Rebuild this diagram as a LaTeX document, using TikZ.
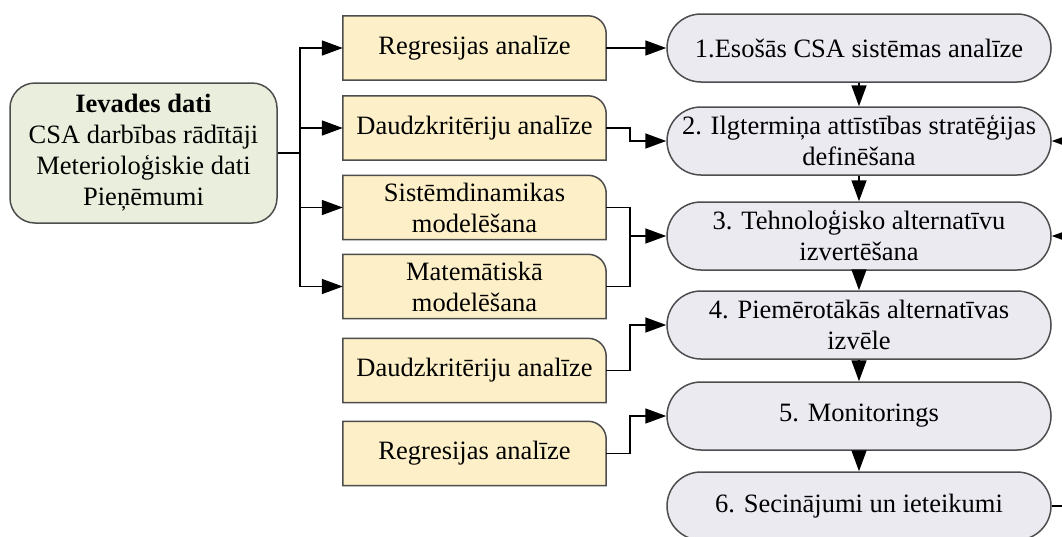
\documentclass[tikz,border=0pt]{standalone}
\usepackage{fontspec}
\setmainfont{Liberation Serif}
\usetikzlibrary{arrows.meta,backgrounds}
\definecolor{ingreen}{HTML}{E9EFDC}
\definecolor{inyellow}{HTML}{FDEFC7}
\definecolor{inlav}{HTML}{ECEAF1}
\definecolor{bordergray}{HTML}{4D4D4D}
\begin{document}
\begin{tikzpicture}[x=1pt,y=-1pt,
  font=\fontsize{26.5}{31}\selectfont,
  innode/.style={draw=bordergray,fill=ingreen,line width=1.5pt,rounded corners=25pt,
    minimum width=267pt,minimum height=140pt,align=center,inner sep=0pt},
  ybox/.style={minimum width=263pt,minimum height=64pt,align=center,inner sep=0pt},
  ydraw/.style={draw=bordergray,fill=inyellow,line width=1.5pt},
  rnode/.style={draw=bordergray,fill=inlav,line width=1.5pt,rounded corners=34pt,
    minimum width=384pt,minimum height=68pt,align=center,inner sep=0pt},
  wire/.style={line width=1.6pt},
  conn/.style={line width=1.6pt,-{Triangle[length=21pt,width=15pt]}}]
\useasboundingbox (0,0) rectangle (1062,536);

% input node
\node[innode] (in) at (143.5,153) {\textbf{Ievades dati}\\CSA darbības rādītāji\\Meterioloģiskie dati\\Pieņēmumi};

% yellow method boxes
\node[ybox] (b1) at (474.5,48) {Regresijas analīze};
\node[ybox] (b2) at (474.5,128) {Daudzkritēriju analīze};
\node[ybox] (b3) at (474.5,207.5) {Sistēmdinamikas\\modelēšana};
\node[ybox] (b4) at (474.5,286.5) {Matemātiskā\\modelēšana};
\node[ybox] (b5) at (474.5,370.5) {Daudzkritēriju analīze};
\node[ybox] (b6) at (474.5,453.5) {Regresijas analīze};
\begin{scope}[on background layer]
  \foreach \n in {b1,b2,b3,b4,b5,b6}
    \draw[ydraw] (\n.south west) -- (\n.north west) -- ([xshift=-18pt]\n.north east)
      arc[start angle=90,end angle=0,radius=18pt] -- (\n.south east) -- cycle;
\end{scope}

% right process nodes
\node[rnode] (r1) at (859,48) {1.Esošās CSA sistēmas analīze};
\node[rnode] (r2) at (859,141) {2. Ilgtermiņa attīstības stratēģijas\\definēšana};
\node[rnode] (r3) at (859,236) {3. Tehnoloģisko alternatīvu\\izvertēšana};
\node[rnode] (r4) at (859,325) {4. Piemērotākās alternatīvas\\izvēle};
\node[rnode] (r5) at (859,416) {5. Monitorings};
\node[rnode] (r6) at (859,506) {6. Secinājumi un ieteikumi};

% bus from input
\coordinate (bus) at (300,153);
\draw[wire] (in.east) -- (bus);
\foreach \n in {b1,b2,b3,b4} \draw[conn] (bus) |- (\n.west);

% method boxes to process nodes
\coordinate (j34) at (630,236);
\draw[conn] (b1.east) -- (r1.west);
\draw[conn] (b2.east) -- ++(24,0) |- (r2.west);
\draw[wire] (b3.east) -| (j34);
\draw[wire] (b4.east) -| (j34);
\draw[conn] (j34) -- (r3.west);
\draw[conn] (b5.east) -- ++(24,0) |- (r4.west);
\draw[conn] (b6.east) -- ++(24,0) |- (r5.west);

% process chain
\draw[conn] (r1.south) -- (r2.north);
\draw[conn] (r2.south) -- (r3.north);
\draw[conn] (r3.south) -- (r4.north);
\draw[conn] (r4.south) -- (r5.north);
\draw[conn] (r5.south) -- (r6.north);

% feedback on the right
\coordinate (fb) at (1080,506);
\draw[wire] (r6.east) -- (fb);
\draw[conn] (fb) |- (r3.east);
\draw[conn] (fb) |- (r2.east);
\end{tikzpicture}
\end{document}
